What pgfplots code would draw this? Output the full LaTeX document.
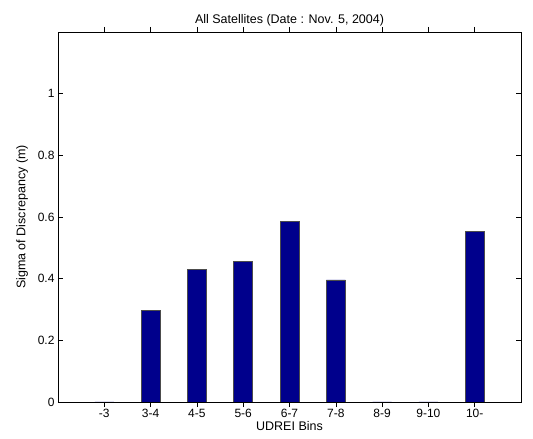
\documentclass[border=0pt]{standalone}
\usepackage{fontspec}
\setmainfont{Liberation Sans}
\usepackage{pgfplots}
\pgfplotsset{compat=1.18}
\definecolor{barnavy}{RGB}{0,0,140}

\begin{document}
\begin{tikzpicture}[x=1pt,y=1pt]
\path[use as bounding box] (-58,-37) rectangle (475,402);
\begin{axis}[
  at={(0,0)}, anchor=south west,
  scale only axis, width=463pt, height=370pt,
  xmin=0, xmax=10, ymin=0, ymax=1.2,
  xtick={1,2,3,4,5,6,7,8,9},
  xticklabels={{-3},{3-4},{4-5},{5-6},{6-7},{7-8},{8-9},{9-10},{10-}},
  ytick={0,0.2,0.4,0.6,0.8,1},
  yticklabels={0,0.2,0.4,0.6,0.8,1},
  tick align=inside, major tick length=5pt,
  tick style={black, line width=0.6pt},
  axis line style={black, line width=0.8pt},
  ticklabel style={font=\fontsize{12}{14}\selectfont},
  label style={font=\fontsize{12.5}{14}\selectfont},
  title style={font=\fontsize{12.5}{14}\selectfont, yshift=-4pt},
  title={All Satellites (Date : Nov. 5, 2004)},
  xlabel={UDREI Bins},
  ylabel={Sigma of Discrepancy (m)},
  xlabel style={yshift=3pt},
  ylabel style={yshift=3pt},
  xticklabel style={yshift=1pt},
  ybar, bar width=0.41, bar shift=0pt,
]
\addplot[draw=black!70, fill=barnavy, line width=0.5pt] coordinates {
  (1,0) (2,0.297) (3,0.430) (4,0.455) (5,0.585) (6,0.396) (7,0) (8,0) (9,0.553)
};
\end{axis}
\end{tikzpicture}
\end{document}
